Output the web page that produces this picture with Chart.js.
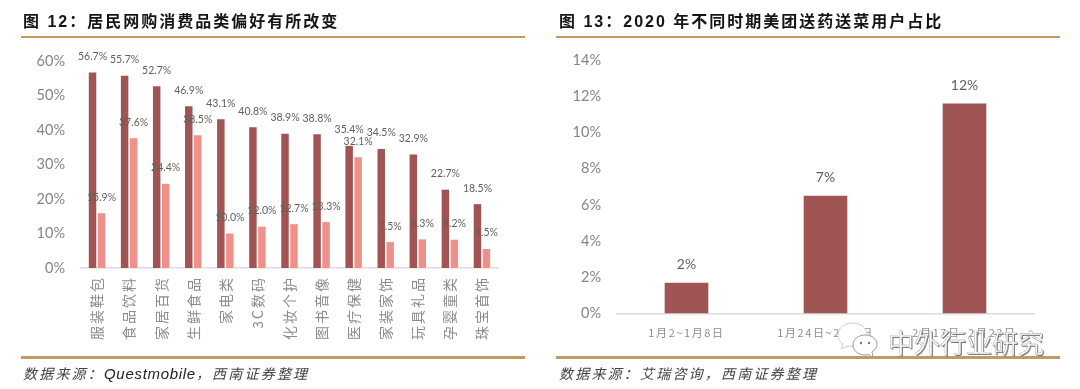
<!DOCTYPE html>
<html>
<head>
<meta charset="utf-8">
<script src="https://cdn.jsdelivr.net/npm/chart.js@4/dist/chart.umd.min.js"></script>
<style>
html,body{margin:0;padding:0;background:#fff;overflow:hidden}
#page{position:relative;width:1080px;height:389px;font-family:"Noto Sans CJK SC",sans-serif;filter:blur(.35px)}
canvas{position:absolute;top:0}
.title{position:absolute;top:11px;font-size:16px;line-height:22px;font-weight:700;color:#151515;white-space:nowrap;letter-spacing:2px;font-family:"Liberation Sans","Noto Sans CJK SC",sans-serif}
.rule{position:absolute;background:#c49a5a}
.src{position:absolute;top:365px;font-size:14px;line-height:18px;font-style:italic;color:#444;white-space:nowrap;letter-spacing:2.2px;font-family:"Liberation Sans","Noto Sans CJK SC",sans-serif}
.src span{font-size:15px;letter-spacing:.7px;color:#222}
.wm{position:absolute;left:888px;top:325px;font-size:26px;line-height:34px;color:#fff;-webkit-text-stroke:.4px #999;text-shadow:1px 1px 0 #777;white-space:nowrap}
.wx{position:absolute;left:835px;top:320px}
</style>
</head>
<body>
<div id="page">
  <div class="title" style="left:23px">图 12：居民网购消费品类偏好有所改变</div>
  <div class="rule" style="left:21px;top:36px;width:504px;height:2px"></div>
  <div class="rule" style="left:21px;top:356px;width:504px;height:2.5px"></div>
  <div class="src" style="left:23px">数据来源：<span>Questmobile</span>，西南证券整理</div>
  <canvas id="left"></canvas>

  <div class="title" style="left:559px">图 13：2020 年不同时期美团送药送菜用户占比</div>
  <div class="rule" style="left:556px;top:36px;width:504px;height:2px"></div>
  <div class="rule" style="left:556px;top:356px;width:504px;height:2.5px"></div>
  <div class="src" style="left:559px">数据来源：艾瑞咨询，西南证券整理</div>
  <canvas id="right" style="left:540px"></canvas>

  <svg class="wx" width="46" height="42" viewBox="0 0 46 42">
    <path d="M18 3c-8.500 0-15 5-15 12 0 4 2 7 5 9l-2 5 7-3c2 .5 3 .5 5 .5 8 0 14-5 14-11.500S26 3 18 3z" fill="#fff" stroke="#ccc"/>
    <path d="M30 15c-7 0-12 4.500-12 10s5 10 12 10c1.500 0 2.500 0 4-.5l4 3.500-1-6c3-2 5-4.500 5-7.500 0-5.500-5-9.500-12-9.500z" fill="#fff" stroke="#999"/>
    <circle cx="26" cy="23" r="1.200" fill="#777"/><circle cx="34" cy="23" r="1.200" fill="#777"/>
  </svg>
  <div class="wm">中外行业研究</div>
</div>
<script>
const categories = ["服装鞋包","食品饮料","家居百货","生鲜食品","家电类","3C数码","化妆个护","图书音像","医疗保健","家装家饰","玩具礼品","孕婴童类","珠宝首饰"];
const seriesDark = [56.7,55.7,52.7,46.9,43.1,40.8,38.9,38.8,35.4,34.5,32.9,22.7,18.5];
const seriesLight = [15.9,37.6,24.4,38.5,10.0,12.0,12.7,13.3,32.1,7.5,8.3,8.2,5.5];

const periods = ["1月2~1月8日","1月24日~2月2日","2月17日~2月23日"];
const shares = [1.7,6.5,11.6];

const DARK = "#a05454";
const LIGHT = "#ef908a";
const TICK = "#858585";
const LABEL = "#5f5f5f";

// no datalabels plugin available, so draw them off the bar elements
const barLabels = {
  id: "barLabels",
  afterDatasetsDraw(chart, args, opts) {
    const c = chart.ctx;
    c.save();
    c.font = opts.font;
    c.fillStyle = LABEL;
    c.textAlign = "center";
    c.textBaseline = "middle";
    chart.data.datasets.forEach((ds, i) => {
      chart.getDatasetMeta(i).data.forEach((bar, j) => {
        c.fillText(ds.data[j].toFixed(opts.digits) + "%", bar.x, bar.y - opts.gap);
      });
    });
    c.restore();
  }
};

function makeChart(id, w, h, top, yWidth, xHeight, right, cfg) {
  const el = document.getElementById(id);
  el.width = w;
  el.height = h;
  el.style.width = w + "px";
  el.style.height = h + "px";
  return new Chart(el, {
    type: "bar",
    plugins: [barLabels],
    data: { labels: cfg.labels, datasets: cfg.datasets },
    options: {
      responsive: false,
      animation: false,
      layout: { padding: { top: top, right: right, left: 0, bottom: 0 } },
      plugins: {
        legend: { display: false },
        title: { display: false },
        tooltip: { enabled: false },
        barLabels: cfg.labelOpts
      },
      scales: {
        x: {
          afterFit(s) {
            s.height = xHeight;
            // tick labels in the original are spaced out
            const draw = s.drawLabels;
            s.drawLabels = function (area) {
              s.ctx.letterSpacing = cfg.xSpacing;
              draw.call(s, area);
              s.ctx.letterSpacing = "0px";
            };
          },
          grid: { display: false, drawTicks: false },
          border: { color: "#dcdcdc", width: 1.5 },
          ticks: cfg.xTicks
        },
        y: {
          afterFit(s) { s.width = yWidth; },
          min: 0,
          max: cfg.yMax,
          grid: { display: false, drawTicks: false },
          border: { display: false },
          ticks: {
            stepSize: cfg.yStep,
            padding: 16,
            color: TICK,
            font: { family: "Lato", size: 14.5 },
            callback: v => v + "%"
          }
        }
      }
    }
  });
}

makeChart("left", 530, 345, 61, 81, 77, 32, {
  labels: categories,
  datasets: [
    { data: seriesDark, backgroundColor: DARK, categoryPercentage: 0.561, barPercentage: 0.83 },
    { data: seriesLight, backgroundColor: LIGHT, categoryPercentage: 0.561, barPercentage: 0.83 }
  ],
  yMax: 60,
  yStep: 10,
  labelOpts: { font: "10.5px Lato", gap: 16, digits: 1 },
  xSpacing: "2px",
  xTicks: {
    minRotation: 90,
    maxRotation: 90,
    padding: 8,
    color: "#8c8c8c",
    autoSkip: false,
    font: { family: "Noto Sans CJK SC", size: 14 }
  }
});

makeChart("right", 540, 345, 60, 77, 31.5, 46, {
  labels: periods,
  datasets: [
    { data: shares, backgroundColor: DARK, categoryPercentage: 0.314, barPercentage: 1 }
  ],
  yMax: 14,
  yStep: 2,
  labelOpts: { font: "14px Lato", gap: 18, digits: 0 },
  xSpacing: "1.6px",
  xTicks: {
    maxRotation: 0,
    padding: 13,
    color: "#8c8c8c",
    autoSkip: false,
    font: { family: "Noto Sans CJK SC", size: 11 }
  }
});
</script>
</body>
</html>
